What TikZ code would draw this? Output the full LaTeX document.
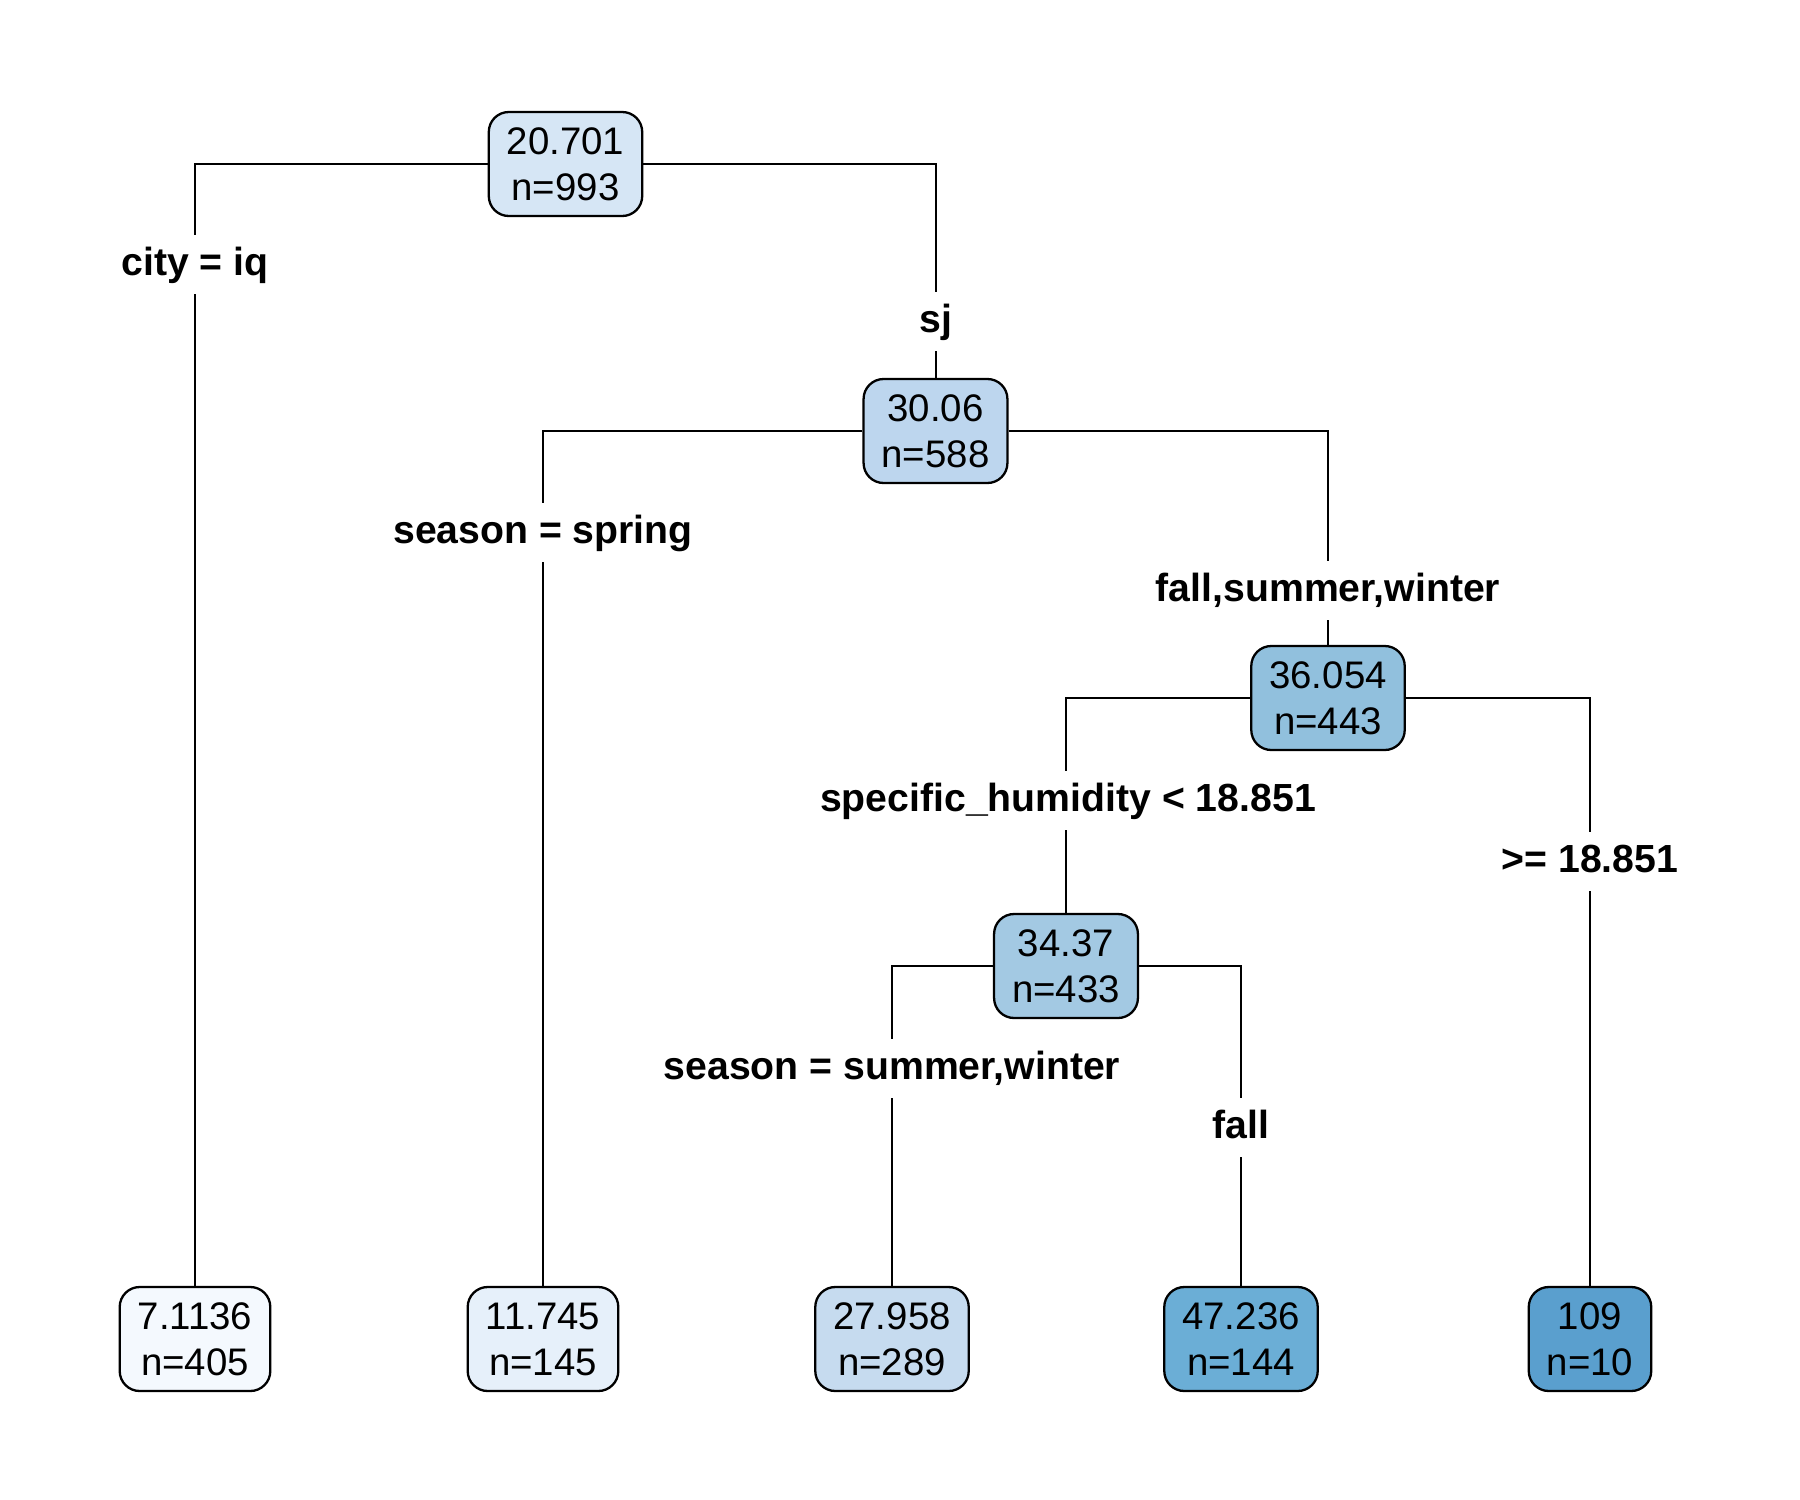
\documentclass[tikz,border=0pt]{standalone}
\usepackage{fontspec}
\setmainfont{Liberation Sans}
\definecolor{c1}{HTML}{F4F9FE}
\definecolor{c2}{HTML}{E6F0FA}
\definecolor{c3}{HTML}{D6E6F5}
\definecolor{c4}{HTML}{C6DBEF}
\definecolor{c5}{HTML}{BDD6EE}
\definecolor{c6}{HTML}{A3C9E3}
\definecolor{c7}{HTML}{91C0DD}
\definecolor{c8}{HTML}{6BAED6}
\definecolor{c9}{HTML}{5A9FCE}
\tikzset{
  tnode/.style={draw=black, line width=1.15pt, rounded corners=10pt, align=center,
    inner xsep=9pt, inner ysep=0pt, minimum height=52pt,
    font=\fontsize{19.2}{23}\selectfont},
  lab/.style={fill=white, inner xsep=2pt, inner ysep=5.25pt, text height=15pt,
    text depth=4pt, font=\bfseries\fontsize{19.6}{23}\selectfont, anchor=base},
  edge/.style={line width=1pt}
}
\begin{document}
\begin{tikzpicture}[x=0.5pt,y=-0.5pt]
\useasboundingbox[fill=white] (0,0) rectangle (1800,1500);
% nodes
\node[tnode, fill=c3] (root) at (565.5,164) {20.701\\n=993};
\node[tnode, fill=c5] (n2) at (935.5,431) {30.06\\n=588};
\node[tnode, fill=c7] (n3) at (1328,698) {36.054\\n=443};
\node[tnode, fill=c6] (n4) at (1066,966) {34.37\\n=433};
\node[tnode, fill=c1] (l1) at (195,1339) {7.1136\\n=405};
\node[tnode, fill=c2] (l2) at (543,1339) {11.745\\n=145};
\node[tnode, fill=c4] (l3) at (892,1339) {27.958\\n=289};
\node[tnode, fill=c8] (l4) at (1241,1339) {47.236\\n=144};
\node[tnode, fill=c9] (l5) at (1590,1339) {109\\n=10};
% edges
\draw[edge] (root.west) -| (l1.north);
\draw[edge] (root.east) -| (n2.north);
\draw[edge] (n2.west) -| (l2.north);
\draw[edge] (n2.east) -| (n3.north);
\draw[edge] (n3.west) -| (n4.north);
\draw[edge] (n3.east) -| (l5.north);
\draw[edge] (n4.west) -| (l3.north);
\draw[edge] (n4.east) -| (l4.north);
% labels
\node[lab] (t1) at (195,275) {city = iq};
\node[lab] (t2) at (936,332) {sj};
\node[lab] (t3) at (543,543) {season = spring};
\node[lab] (t4) at (1328,601) {fall,summer,winter};
\node[lab] (t5) at (1068,811) {specific\_humidity < 18.851};
\node[lab] (t6) at (1590,872) {>= 18.851};
\node[lab] (t7) at (892,1079) {season = summer,winter};
\node[lab] (t8) at (1241,1138) {fall};
\end{tikzpicture}
\end{document}
